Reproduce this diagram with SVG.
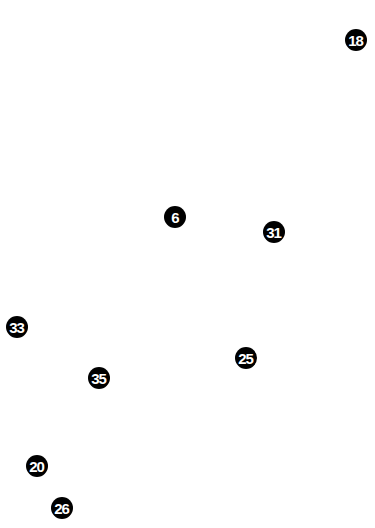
<svg xmlns="http://www.w3.org/2000/svg" width="375" height="528" viewBox="0 0 375 528">
<style>
.n circle{fill:#000;}
.n text{fill:#fff;font-family:"Liberation Sans",Arial,sans-serif;font-weight:bold;font-size:15px;text-anchor:middle;dominant-baseline:central;letter-spacing:-1px;}
</style>
<rect width="375" height="528" fill="#fff"/>
<g id="connectors"></g>
<g id="n18" class="n"><circle cx="356" cy="40" r="11"/><text x="355.5" y="40.5">18</text></g>
<g id="n6" class="n"><circle cx="175" cy="217" r="11"/><text x="175" y="217.5">6</text></g>
<g id="n31" class="n"><circle cx="274" cy="232" r="11"/><text x="273.5" y="232.5">31</text></g>
<g id="n33" class="n"><circle cx="17" cy="327" r="11"/><text x="16.5" y="327.5">33</text></g>
<g id="n25" class="n"><circle cx="246" cy="358" r="11"/><text x="245.5" y="358.5">25</text></g>
<g id="n35" class="n"><circle cx="99" cy="378" r="11"/><text x="98.5" y="378.5">35</text></g>
<g id="n20" class="n"><circle cx="37" cy="466" r="11"/><text x="36.5" y="466.5">20</text></g>
<g id="n26" class="n"><circle cx="62" cy="508" r="11"/><text x="61.5" y="508.5">26</text></g>
</svg>
